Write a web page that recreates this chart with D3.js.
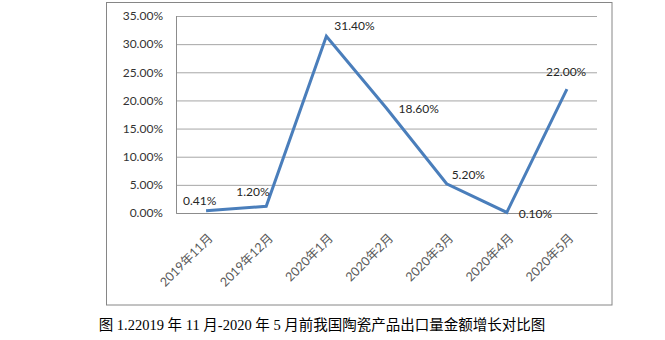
<!DOCTYPE html>
<html lang="zh">
    <head>
        <meta charset="UTF-8">
        <title>陶瓷产品出口量金额增长</title>
        <style>
            body {
            margin: 0;
            background: #fff;
            }

            .frame {
            fill: none;
            stroke: #868686;
            }

            .grid line {
            stroke: #a6a6a6;
            }

            .ylab text {
            font-family: Lato, "Noto Sans CJK SC", sans-serif;
            font-size: 12px;
            fill: #333;
            }

            .xlab text {
            font-family: Lato, "Noto Sans CJK SC", sans-serif;
            font-size: 12.5px;
            fill: #595959;
            }

            .vlab {
            font-family: Lato, sans-serif;
            font-size: 12px;
            fill: #262626;
            }

            .caption {
            font-family: "Liberation Serif", "Noto Sans CJK SC", serif;
            font-size: 14.5px;
            fill: #000;
            }
        </style>
    </head>
    <body>
        <script src="https://cdnjs.cloudflare.com/ajax/libs/d3/7.8.5/d3.min.js"></script>
        <script>
// data
var months = ['2019年11月', '2019年12月', '2020年1月', '2020年2月', '2020年3月', '2020年4月', '2020年5月'];
var growth = [0.0041, 0.012, 0.314, 0.186, 0.052, 0.001, 0.22];
var yTicks = [0, 0.05, 0.10, 0.15, 0.20, 0.25, 0.30, 0.35];
var captionText = '图 1.22019 年 11 月-2020 年 5 月前我国陶瓷产品出口量金额增长对比图';

// where each value label sits relative to its point (dx, dy)
var labelShift = [[-23, -6], [-30, -10], [8, -6], [12, 5], [5, -5], [12, 6], [-21, -13]];

var W = 665, H = 340;
var plot = {left: 176, right: 597, top: 16, bottom: 213};

var svg = d3.select('body').append('svg')
            .attr('width', W)
            .attr('height', H);

svg.append('rect')
   .attr('class', 'frame')
   .attr('x', 106.5).attr('y', 2.5)
   .attr('width', 505.5).attr('height', 302.5);

var x = d3.scalePoint()
          .domain(months)
          .range([plot.left, plot.right])
          .padding(0.5);

var y = d3.scaleLinear()
          .domain([0, 0.35])
          .range([plot.bottom, plot.top]);

// gridlines + y labels
var yAxis = d3.axisLeft(y)
              .tickValues(yTicks)
              .tickFormat(d3.format('.2%'))
              .tickSize(-(plot.right - plot.left))
              .tickPadding(13);

var gy = svg.append('g')
            .attr('class', 'grid ylab')
            .attr('transform', 'translate(' + plot.left + ',0)')
            .call(yAxis);
gy.select('.domain').remove();
gy.selectAll('.tick line').attr('stroke', '#a6a6a6');

// left axis line
svg.append('line')
   .attr('x1', plot.left + 0.5).attr('x2', plot.left + 0.5)
   .attr('y1', plot.top).attr('y2', plot.bottom)
   .attr('stroke', '#8c8c8c');

// x labels, rotated
var xAxis = d3.axisBottom(x).tickSize(0).tickPadding(0);
var gx = svg.append('g')
            .attr('class', 'xlab')
            .attr('transform', 'translate(0,' + plot.bottom + ')')
            .call(xAxis);
gx.select('.domain').attr('stroke', '#8c8c8c');
gx.selectAll('.tick text')
  .attr('text-anchor', 'end')
  .attr('y', 0)
  .attr('dy', 0)
  .attr('transform', 'translate(7,26) rotate(-45)');

// the line
var line = d3.line()
             .x(function(d, i) { return x(months[i]); })
             .y(function(d) { return y(d); });

svg.append('path')
   .datum(growth)
   .attr('d', line)
   .attr('fill', 'none')
   .attr('stroke', '#4a7ebb')
   .attr('stroke-width', 3)
   .attr('stroke-linejoin', 'miter');

// value labels
svg.selectAll('.vlab')
   .data(growth)
   .enter()
   .append('text')
   .attr('class', 'vlab')
   .attr('x', function(d, i) { return x(months[i]) + labelShift[i][0]; })
   .attr('y', function(d, i) { return y(d) + labelShift[i][1]; })
   .text(function(d) { return d3.format('.2%')(d); });

svg.append('text')
   .attr('class', 'caption')
   .attr('x', 322)
   .attr('y', 330)
   .attr('text-anchor', 'middle')
   .text(captionText);
        </script>
    </body>
</html>
